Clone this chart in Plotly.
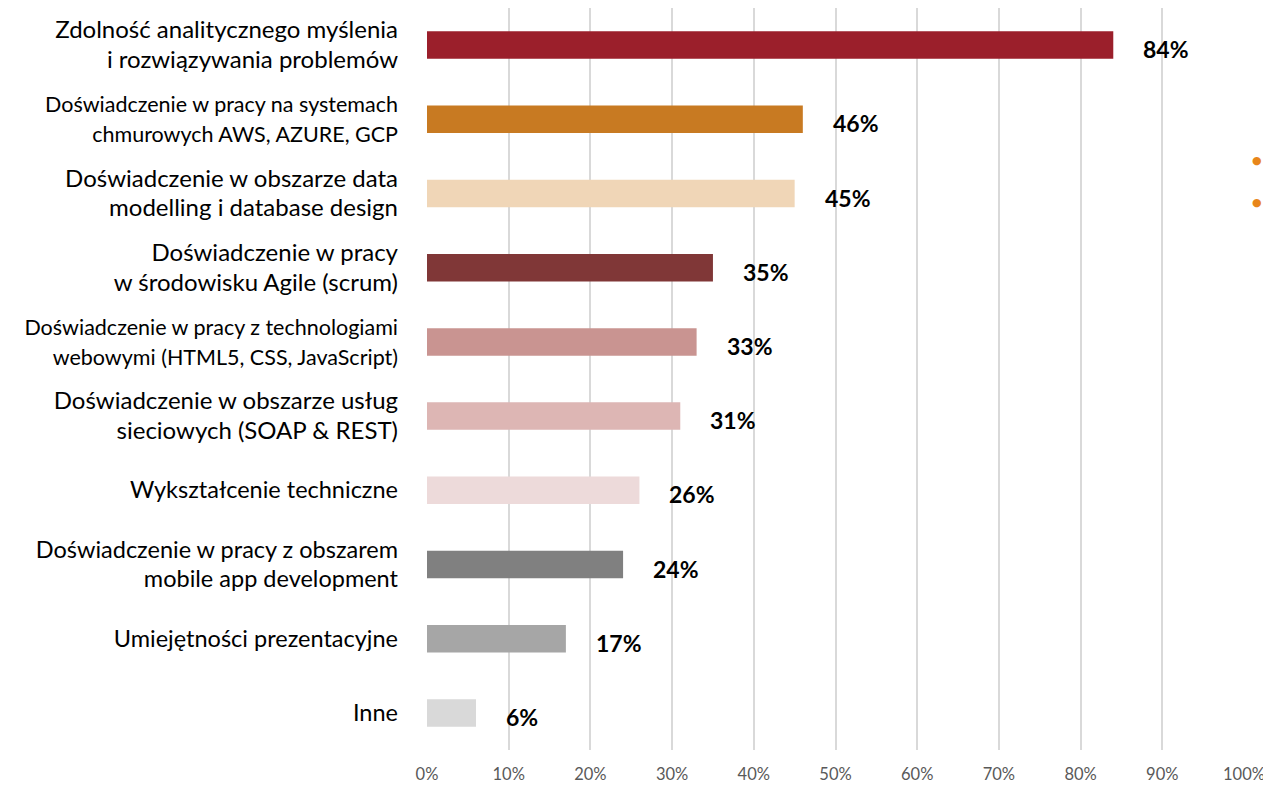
import plotly.graph_objects as go

categories = [
    "Zdolność analitycznego myślenia<br>i rozwiązywania problemów",
    "Doświadczenie w pracy na systemach<br>chmurowych AWS, AZURE, GCP",
    "Doświadczenie w obszarze data<br>modelling i database design",
    "Doświadczenie w pracy<br>w środowisku Agile (scrum)",
    "Doświadczenie w pracy z technologiami<br>webowymi (HTML5, CSS, JavaScript)",
    "Doświadczenie w obszarze usług<br>sieciowych (SOAP & REST)",
    "Wykształcenie techniczne",
    "Doświadczenie w pracy z obszarem<br>mobile app development",
    "Umiejętności prezentacyjne",
    "Inne",
]
values = [84, 46, 45, 35, 33, 31, 26, 24, 17, 6]
label_sizes = [24, 21.5, 24, 24, 21.5, 24, 23.5, 23.5, 23.5, 23.5]
colors = ["#9B1F2B", "#C87A22", "#F0D6B7", "#803737", "#C99491",
          "#DDB6B4", "#EDDADA", "#808080", "#A6A6A6", "#D9D9D9"]
x_ticks = [0, 10, 20, 30, 40, 50, 60, 70, 80, 90, 100]
x_ticktext = [f"{t}%" for t in x_ticks]

FONT = "Lato, 'Open Sans', sans-serif"

ticktext = [f"<span style='font-size:{s}px'>{c}</span>" for c, s in zip(categories, label_sizes)]

fig = go.Figure()
fig.add_trace(go.Bar(
    x=values, y=categories, orientation="h",
    marker=dict(color=colors, line=dict(width=0)),
    width=0.37, hoverinfo="x+y",
))

for c, v in zip(categories, values):
    fig.add_annotation(x=v, y=c, text=f"<b>{v}%</b>", showarrow=False,
                       xanchor="left", yanchor="middle", xshift=28, yshift=-4,
                       font=dict(family=FONT, size=23, color="#000000"))

# decorative orange bullets at right edge (remnants of a cropped legend)
for yy in [0.795, 0.738]:
    fig.add_annotation(xref="paper", yref="paper", x=1.0165, y=yy,
                       text="●", showarrow=False, xanchor="center", yanchor="middle",
                       font=dict(family="DejaVu Sans", size=11, color="#E8861A"))

# page body has an 8px default margin, so the figure is sized to fit the window
fig.update_layout(
    width=1263, height=778,
    margin=dict(l=419, r=27, t=0, b=36, autoexpand=False),
    paper_bgcolor="white", plot_bgcolor="white",
    showlegend=False,
    font=dict(family=FONT, color="#000000"),
    xaxis=dict(range=[0, 100], tickvals=x_ticks, ticktext=x_ticktext,
               showgrid=True, gridcolor="#D9D9D9", gridwidth=2,
               zeroline=False, showline=False, ticks="", automargin=False,
               tickfont=dict(family=FONT, size=16.5, color="#595959"),
               ticklabelstandoff=12, fixedrange=True),
    yaxis=dict(categoryorder="array", categoryarray=categories,
               autorange="reversed", tickvals=categories, ticktext=ticktext,
               showgrid=False, zeroline=False, showline=False, ticks="",
               automargin=False,
               tickfont=dict(family=FONT, size=23, color="#000000"),
               ticklabelstandoff=28, fixedrange=True),
)

fig.write_html("out.html")
